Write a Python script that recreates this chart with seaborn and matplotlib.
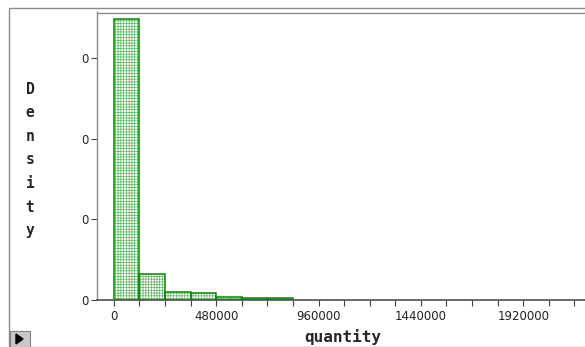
import matplotlib
matplotlib.use("Agg")
import matplotlib.pyplot as plt
import matplotlib.patches as mpatches
import seaborn as sns
import numpy as np
import pandas as pd

# ---- data ----
bin_edges = [0, 120000, 240000, 360000, 480000, 600000, 720000, 840000]
bin_centers = [60000, 180000, 300000, 420000, 540000, 660000, 780000]
density = [6.98e-6, 6.46e-7, 2.0e-7, 1.66e-7, 6.6e-8, 4.0e-8, 4.0e-8]
x_ticks = [0, 480000, 960000, 1440000, 1920000]
x_tick_labels = ["0", "480000", "960000", "1440000", "1920000"]
y_ticks = [0, 2e-6, 4e-6, 6e-6]
y_tick_labels = ["0", "0", "0", "0"]

df = pd.DataFrame({"quantity": bin_centers, "density": density})

sns.set_theme(style="white")
plt.rcParams["font.family"] = ["DejaVu Sans"]
plt.rcParams["hatch.linewidth"] = 0.5

W, H = 585, 347
fig = plt.figure(figsize=(W / 100, H / 100), dpi=100)
fig.patch.set_facecolor("white")

# outer frame
fig.patches.append(mpatches.Rectangle((9 / W, 0), 1, 1 - 8 / H, transform=fig.transFigure,
                                      fill=False, edgecolor="#8a8a8a", linewidth=1.0))
# small play button bottom-left
fig.patches.append(mpatches.Rectangle((10 / W, 0), 20 / W, 16 / H, transform=fig.transFigure,
                                      facecolor="#c8c8c8", edgecolor="#808080", linewidth=0.8))
fig.patches.append(mpatches.Polygon([[16 / W, 3 / H], [16 / W, 13 / H], [23 / W, 8 / H]],
                                    closed=True, transform=fig.transFigure,
                                    facecolor="black", edgecolor="black"))

left, right = 97, 600
top, bottom = 12.5, 300
ax = fig.add_axes([left / W, (H - bottom) / H, (right - left) / W, (bottom - top) / H])

# hatched fill (green fine grid)
sns.histplot(data=df, x="quantity", weights="density", bins=bin_edges, stat="count",
             ax=ax, facecolor="white", edgecolor="#5cb85c", linewidth=0.0,
             hatch="++++++", alpha=1.0)
# dark green outlines
sns.histplot(data=df, x="quantity", weights="density", bins=bin_edges, stat="count",
             ax=ax, fill=False, element="bars", color="#008c00", linewidth=1.1)

ax.set_xlim(-79000, 2256000)
ax.set_ylim(0, 7.14e-6)

ax.set_xticks(x_ticks)
ax.set_xticklabels(x_tick_labels)
ax.set_xticks(np.arange(0, 2300000, 120000), minor=True)
ax.set_yticks(y_ticks)
ax.set_yticklabels(y_tick_labels)

ax.tick_params(axis="both", which="both", direction="out", length=4, width=0.8,
               color="#404040", labelsize=8.5, labelcolor="#222222", bottom=True, left=True)
ax.tick_params(axis="x", which="major", pad=3)
ax.tick_params(axis="y", which="major", pad=2)

for s in ["top", "left", "right"]:
    ax.spines[s].set_color("#8a8a8a")
    ax.spines[s].set_linewidth(1.0)
ax.spines["bottom"].set_color("#505050")
ax.spines["bottom"].set_linewidth(1.2)

ax.set_xlabel("quantity", fontsize=11.5, fontweight="bold", family="DejaVu Sans Mono")
ax.xaxis.set_label_coords((343 - left) / (right - left), -(337 - bottom) / (bottom - top))
ax.xaxis.label.set_verticalalignment("center")

ax.set_ylabel("D\ne\nn\ns\ni\nt\ny", rotation=0, fontsize=10.5, fontweight="bold",
              family="DejaVu Sans Mono", linespacing=1.72, va="center", ha="center")
ax.yaxis.set_label_coords((30 - left) / (right - left), (bottom - 160) / (bottom - top))

fig.savefig("out.png", dpi=100)
